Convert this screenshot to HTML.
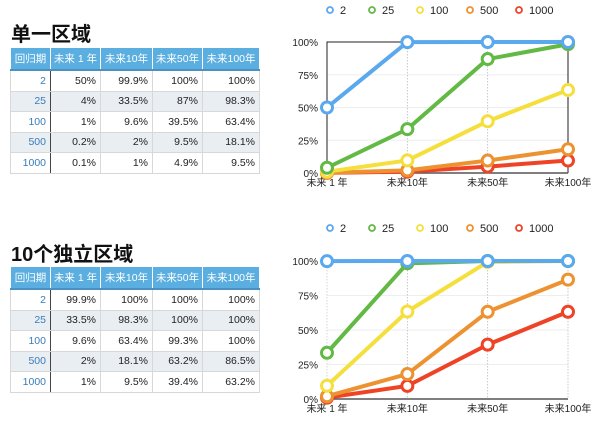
<!DOCTYPE html>
<html><head><meta charset="utf-8">
<style>
body{margin:0;width:600px;height:427px;background:#fff;font-family:"Liberation Sans","Noto Sans CJK SC",sans-serif;position:relative;overflow:hidden}
.title{position:absolute;left:11px;font-size:20px;font-weight:bold;color:#111}
table{position:absolute;left:10px;border-collapse:collapse;font-size:10.5px;border:1px solid #ccc;table-layout:fixed;width:249px}
th{background:#5aaee0;color:#fff;font-weight:normal;height:21px;padding:0;border:1px solid #fff;border-bottom:2px solid #4a90c0;white-space:nowrap;overflow:hidden}
td{height:19.5px;text-align:right;padding:0 4px 0 0;border:1px solid #d8d8d8;color:#222;white-space:nowrap}
td.k{color:#3a7cb8;border-right:1.5px solid #444}
tr.alt td{background:#e9eef3}
svg{position:absolute;left:0;top:0}
</style></head><body>
<div class="title" style="top:18px">单一区域</div>
<table style="top:47px">
<colgroup><col style="width:40px"><col style="width:50px"><col style="width:52px"><col style="width:50px"><col style="width:57px"></colgroup>
<tr><th>回归期</th><th>未来 1 年</th><th>未来10年</th><th>未来50年</th><th>未来100年</th></tr>
<tr><td class="k">2</td><td>50%</td><td>99.9%</td><td>100%</td><td>100%</td></tr>
<tr class="alt"><td class="k">25</td><td>4%</td><td>33.5%</td><td>87%</td><td>98.3%</td></tr>
<tr><td class="k">100</td><td>1%</td><td>9.6%</td><td>39.5%</td><td>63.4%</td></tr>
<tr class="alt"><td class="k">500</td><td>0.2%</td><td>2%</td><td>9.5%</td><td>18.1%</td></tr>
<tr><td class="k">1000</td><td>0.1%</td><td>1%</td><td>4.9%</td><td>9.5%</td></tr>
</table>
<div class="title" style="top:238px">10个独立区域</div>
<table style="top:266px">
<colgroup><col style="width:40px"><col style="width:50px"><col style="width:52px"><col style="width:50px"><col style="width:57px"></colgroup>
<tr><th>回归期</th><th>未来 1 年</th><th>未来10年</th><th>未来50年</th><th>未来100年</th></tr>
<tr><td class="k">2</td><td>99.9%</td><td>100%</td><td>100%</td><td>100%</td></tr>
<tr class="alt"><td class="k">25</td><td>33.5%</td><td>98.3%</td><td>100%</td><td>100%</td></tr>
<tr><td class="k">100</td><td>9.6%</td><td>63.4%</td><td>99.3%</td><td>100%</td></tr>
<tr class="alt"><td class="k">500</td><td>2%</td><td>18.1%</td><td>63.2%</td><td>86.5%</td></tr>
<tr><td class="k">1000</td><td>1%</td><td>9.5%</td><td>39.4%</td><td>63.2%</td></tr>
</table>
<svg id="svg" width="600" height="427"></svg>
<script>
const categories=["未来 1 年","未来10年","未来50年","未来100年"];
const seriesNames=["2","25","100","500","1000"];
const colors=["#5aa8ee","#62b944","#f5df3c","#ec9230","#ee4325"];
const yTicks=[0,25,50,75,100];
const single2=[50,99.9,100,100];
const single25=[4,33.5,87,98.3];
const single100=[1,9.6,39.5,63.4];
const single500=[0.2,2,9.5,18.1];
const single1000=[0.1,1,4.9,9.5];
const ten2=[99.9,100,100,100];
const ten25=[33.5,98.3,100,100];
const ten100=[9.6,63.4,99.3,100];
const ten500=[2,18.1,63.2,86.5];
const ten1000=[1,9.5,39.4,63.2];
const NS="http://www.w3.org/2000/svg";
const svg=document.getElementById('svg');
function mk(t,a,p){const e=document.createElementNS(NS,t);for(const k in a)e.setAttribute(k,a[k]);(p||svg).appendChild(e);return e;}
function chart(top,y100,y0,data,name,box){
  const g=mk('g',{});
  
  
  const x0=327,x1=568;
  const xs=i=>x0+i*(x1-x0)/(categories.length-1);
  const ys=v=>y0-(v/100)*(y0-y100);
  const lx=[330,372,420,470,519];
  seriesNames.forEach((s,i)=>{
    const c=mk('circle',{cx:lx[i],cy:top,r:3,fill:'#fff',stroke:colors[i],'stroke-width':1.8},g);
    
    
    const t=mk('text',{x:lx[i]+10,y:top+4,'font-size':11,fill:'#222'},g);
    t.textContent=s;
    
    
  });
  yTicks.forEach(v=>{
    if(v>0&&v<100) mk('line',{x1:x0,x2:x1,y1:ys(v),y2:ys(v),stroke:'#eee','stroke-width':1},g);
    const t=mk('text',{x:x0-9,y:ys(v)+4,'font-size':10,'text-anchor':'end',fill:'#222'},g);
    t.textContent=v+'%';
    
    
  });
  categories.forEach((c,i)=>{
    if(i>0) mk('line',{x1:xs(i),x2:xs(i),y1:y100,y2:y0,stroke:'#bbb','stroke-width':0.8,'stroke-dasharray':'1.5,1.5'},g);
    const t=mk('text',{x:xs(i),y:y0+13,'font-size':10,'text-anchor':'middle',fill:'#222'},g);
    t.textContent=c;
    
    
  });
  if(box){mk('path',{d:`M${x0},${y0}V${y100}H${x1}V${y0}`,fill:'none',stroke:'#222','stroke-width':1},g);}
  else{mk('line',{x1:x0,x2:x0,y1:y100,y2:y0,stroke:'#ccc','stroke-width':0.8,'stroke-dasharray':'1.5,1.5'},g);}
  mk('line',{x1:x0,x2:x1,y1:y0,y2:y0,stroke:'#555','stroke-width':1.5},g);
  for(let si=data.length-1;si>=0;si--){
    const d=data[si];
    const pl=mk('polyline',{points:d.map((v,i)=>xs(i)+','+ys(v)).join(' '),fill:'none',stroke:colors[si],'stroke-width':4,'stroke-linejoin':'round'},g);
    
    
    d.forEach((v,i)=>{
      const c=mk('circle',{cx:xs(i),cy:ys(v),r:5.5,fill:'#fff',stroke:colors[si],'stroke-width':3},g);
      
      
    });
  }
}
chart(10,42,173,[single2,single25,single100,single500,single1000],'chart-single-region',true);
chart(228,261,399,[ten2,ten25,ten100,ten500,ten1000],'chart-ten-regions',false);
</script>
</body></html>
